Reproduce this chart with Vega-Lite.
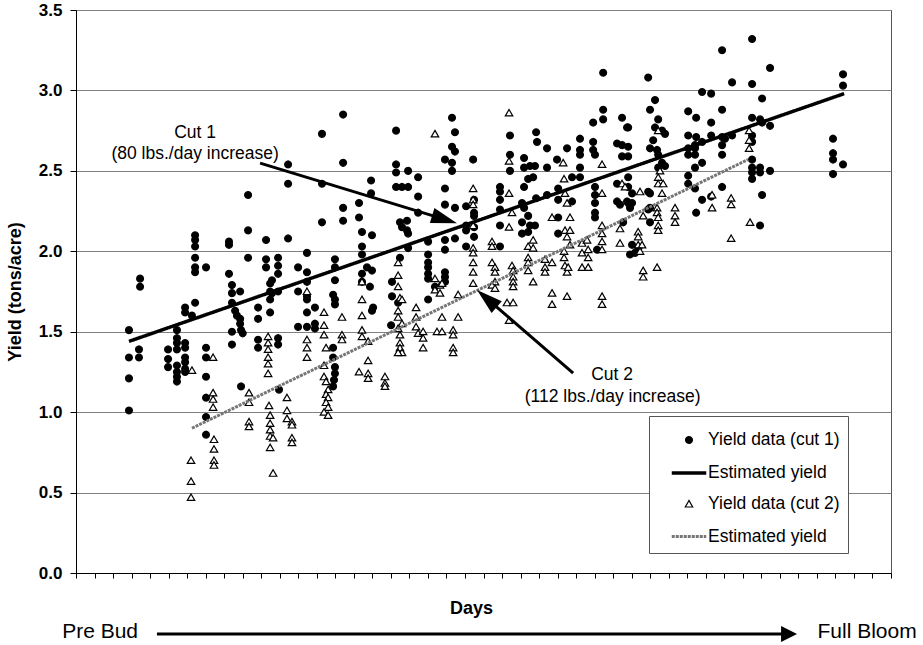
{
"$schema":"https://vega.github.io/schema/vega-lite/v6.json",
"width":815,"height":563,
"autosize":{"type":"none"},
"padding":{"left":76,"top":10,"right":32,"bottom":72},
"background":"white",
"config":{
 "font":"Liberation Sans",
 "view":{"stroke":"#555","strokeWidth":1},
 "legend":{"orient":"none","padding":8,"strokeColor":"#555","fillColor":"white","labelFontSize":17.5,"labelColor":"black","labelFont":"Liberation Sans","rowPadding":6,"gridAlign":"all","symbolSize":900,"symbolOffset":15,"labelOffset":2,"symbolOpacity":1}
},
"datasets":{
"yields":[
{"day":2.86,"yield":1.51,"s":"c1"},{"day":2.86,"yield":1.34,"s":"c1"},{"day":2.86,"yield":1.21,"s":"c1"},{"day":2.86,"yield":1.01,"s":"c1"},
{"day":3.46,"yield":1.83,"s":"c1"},{"day":3.46,"yield":1.78,"s":"c1"},{"day":3.40,"yield":1.39,"s":"c1"},{"day":3.40,"yield":1.34,"s":"c1"},
{"day":4.97,"yield":1.39,"s":"c1"},{"day":4.97,"yield":1.33,"s":"c1"},{"day":4.97,"yield":1.28,"s":"c1"},
{"day":5.45,"yield":1.51,"s":"c1"},{"day":5.45,"yield":1.46,"s":"c1"},{"day":5.45,"yield":1.43,"s":"c1"},{"day":5.45,"yield":1.39,"s":"c1"},{"day":5.45,"yield":1.29,"s":"c1"},{"day":5.45,"yield":1.25,"s":"c1"},{"day":5.45,"yield":1.22,"s":"c1"},{"day":5.45,"yield":1.19,"s":"c1"},
{"day":5.89,"yield":1.43,"s":"c1"},{"day":5.89,"yield":1.40,"s":"c1"},{"day":5.89,"yield":1.34,"s":"c1"},{"day":5.89,"yield":1.31,"s":"c1"},{"day":5.89,"yield":1.27,"s":"c1"},{"day":5.89,"yield":1.25,"s":"c1"},
{"day":5.89,"yield":1.65,"s":"c1"},{"day":5.89,"yield":1.62,"s":"c1"},{"day":6.26,"yield":1.60,"s":"c1"},{"day":6.43,"yield":1.68,"s":"c1"},
{"day":6.43,"yield":2.10,"s":"c1"},{"day":6.43,"yield":2.07,"s":"c1"},{"day":6.43,"yield":2.03,"s":"c1"},{"day":6.43,"yield":1.96,"s":"c1"},{"day":6.43,"yield":1.90,"s":"c1"},{"day":6.43,"yield":1.87,"s":"c1"},{"day":7.02,"yield":1.90,"s":"c1"},
{"day":7.02,"yield":1.40,"s":"c1"},{"day":7.02,"yield":1.34,"s":"c1"},{"day":7.02,"yield":1.22,"s":"c1"},{"day":7.02,"yield":1.09,"s":"c1"},{"day":7.02,"yield":0.97,"s":"c1"},{"day":7.02,"yield":0.86,"s":"c1"},
{"day":8.26,"yield":2.06,"s":"c1"},{"day":8.26,"yield":2.04,"s":"c1"},{"day":8.26,"yield":1.86,"s":"c1"},
{"day":8.42,"yield":1.79,"s":"c1"},{"day":8.42,"yield":1.74,"s":"c1"},{"day":8.86,"yield":1.75,"s":"c1"},{"day":8.42,"yield":1.68,"s":"c1"},{"day":8.59,"yield":1.63,"s":"c1"},{"day":8.69,"yield":1.60,"s":"c1"},{"day":8.86,"yield":1.58,"s":"c1"},{"day":8.86,"yield":1.55,"s":"c1"},{"day":8.91,"yield":1.51,"s":"c1"},{"day":9.00,"yield":1.49,"s":"c1"},{"day":8.42,"yield":1.50,"s":"c1"},{"day":8.42,"yield":1.42,"s":"c1"},
{"day":9.29,"yield":2.35,"s":"c1"},{"day":9.29,"yield":2.13,"s":"c1"},{"day":9.29,"yield":1.96,"s":"c1"},{"day":8.91,"yield":1.16,"s":"c1"},
{"day":9.83,"yield":1.65,"s":"c1"},{"day":9.83,"yield":1.58,"s":"c1"},{"day":9.83,"yield":1.45,"s":"c1"},{"day":9.83,"yield":1.40,"s":"c1"},
{"day":10.26,"yield":2.07,"s":"c1"},{"day":10.26,"yield":1.95,"s":"c1"},{"day":10.26,"yield":1.90,"s":"c1"},{"day":10.91,"yield":1.96,"s":"c1"},{"day":10.91,"yield":1.91,"s":"c1"},{"day":10.91,"yield":1.86,"s":"c1"},{"day":10.58,"yield":1.82,"s":"c1"},{"day":10.48,"yield":1.80,"s":"c1"},{"day":10.48,"yield":1.75,"s":"c1"},{"day":10.58,"yield":1.74,"s":"c1"},{"day":10.91,"yield":1.75,"s":"c1"},{"day":10.48,"yield":1.70,"s":"c1"},{"day":10.48,"yield":1.62,"s":"c1"},
{"day":10.91,"yield":1.46,"s":"c1"},{"day":10.91,"yield":1.42,"s":"c1"},
{"day":11.45,"yield":2.54,"s":"c1"},{"day":11.45,"yield":2.42,"s":"c1"},{"day":11.45,"yield":2.08,"s":"c1"},{"day":10.96,"yield":1.14,"s":"c1"},
{"day":12.47,"yield":1.99,"s":"c1"},{"day":11.99,"yield":1.90,"s":"c1"},{"day":12.47,"yield":1.87,"s":"c1"},{"day":12.47,"yield":1.81,"s":"c1"},{"day":11.99,"yield":1.75,"s":"c1"},{"day":12.47,"yield":1.72,"s":"c1"},{"day":12.47,"yield":1.70,"s":"c1"},{"day":12.47,"yield":1.62,"s":"c1"},{"day":12.90,"yield":1.65,"s":"c1"},{"day":12.47,"yield":1.53,"s":"c1"},{"day":12.90,"yield":1.55,"s":"c1"},{"day":12.90,"yield":1.52,"s":"c1"},{"day":11.99,"yield":1.53,"s":"c1"},
{"day":13.28,"yield":2.73,"s":"c1"},{"day":13.28,"yield":2.42,"s":"c1"},{"day":13.28,"yield":2.18,"s":"c1"},
{"day":13.98,"yield":1.95,"s":"c1"},{"day":13.98,"yield":1.90,"s":"c1"},{"day":13.98,"yield":1.82,"s":"c1"},{"day":13.88,"yield":1.73,"s":"c1"},{"day":13.98,"yield":1.70,"s":"c1"},{"day":13.98,"yield":1.67,"s":"c1"},
{"day":13.88,"yield":1.40,"s":"c1"},{"day":13.88,"yield":1.34,"s":"c1"},{"day":13.98,"yield":1.28,"s":"c1"},{"day":13.98,"yield":1.24,"s":"c1"},{"day":13.93,"yield":1.20,"s":"c1"},{"day":13.88,"yield":1.16,"s":"c1"},
{"day":14.42,"yield":2.85,"s":"c1"},{"day":14.42,"yield":2.55,"s":"c1"},{"day":14.42,"yield":2.27,"s":"c1"},{"day":14.42,"yield":2.19,"s":"c1"},
{"day":15.28,"yield":2.30,"s":"c1"},{"day":15.28,"yield":2.21,"s":"c1"},{"day":15.44,"yield":2.12,"s":"c1"},{"day":15.98,"yield":2.10,"s":"c1"},{"day":15.44,"yield":2.03,"s":"c1"},{"day":15.44,"yield":1.98,"s":"c1"},{"day":15.71,"yield":1.90,"s":"c1"},{"day":15.98,"yield":1.88,"s":"c1"},{"day":15.44,"yield":1.86,"s":"c1"},{"day":15.44,"yield":1.81,"s":"c1"},{"day":15.87,"yield":1.78,"s":"c1"},{"day":16.04,"yield":1.65,"s":"c1"},{"day":15.98,"yield":1.63,"s":"c1"},
{"day":15.93,"yield":2.44,"s":"c1"},{"day":15.93,"yield":2.36,"s":"c1"},
{"day":17.28,"yield":2.75,"s":"c1"},
{"day":17.28,"yield":2.54,"s":"c1"},{"day":17.28,"yield":2.49,"s":"c1"},{"day":17.93,"yield":2.50,"s":"c1"},{"day":17.28,"yield":2.40,"s":"c1"},{"day":17.60,"yield":2.40,"s":"c1"},{"day":17.93,"yield":2.40,"s":"c1"},{"day":18.47,"yield":2.46,"s":"c1"},{"day":18.47,"yield":2.34,"s":"c1"},
{"day":17.49,"yield":2.18,"s":"c1"},{"day":17.60,"yield":2.15,"s":"c1"},{"day":17.87,"yield":2.19,"s":"c1"},{"day":17.87,"yield":2.13,"s":"c1"},{"day":17.93,"yield":2.11,"s":"c1"},{"day":17.49,"yield":1.96,"s":"c1"},{"day":17.93,"yield":2.02,"s":"c1"},{"day":18.47,"yield":2.24,"s":"c1"},
{"day":17.06,"yield":1.81,"s":"c1"},{"day":17.06,"yield":1.72,"s":"c1"},{"day":17.39,"yield":1.68,"s":"c1"},{"day":17.01,"yield":1.54,"s":"c1"},
{"day":19.01,"yield":2.06,"s":"c1"},{"day":19.01,"yield":1.98,"s":"c1"},{"day":19.01,"yield":1.93,"s":"c1"},{"day":19.01,"yield":1.90,"s":"c1"},{"day":19.01,"yield":1.86,"s":"c1"},{"day":19.01,"yield":1.83,"s":"c1"},{"day":19.01,"yield":1.70,"s":"c1"},
{"day":19.92,"yield":1.87,"s":"c1"},{"day":19.92,"yield":1.84,"s":"c1"},{"day":19.92,"yield":1.81,"s":"c1"},{"day":19.38,"yield":1.78,"s":"c1"},
{"day":20.30,"yield":2.83,"s":"c1"},{"day":20.46,"yield":2.74,"s":"c1"},{"day":20.30,"yield":2.65,"s":"c1"},{"day":20.46,"yield":2.62,"s":"c1"},{"day":19.92,"yield":2.57,"s":"c1"},{"day":20.30,"yield":2.55,"s":"c1"},{"day":20.30,"yield":2.50,"s":"c1"},{"day":21.44,"yield":2.57,"s":"c1"},
{"day":19.92,"yield":2.39,"s":"c1"},{"day":19.92,"yield":2.29,"s":"c1"},{"day":20.46,"yield":2.27,"s":"c1"},{"day":19.92,"yield":2.07,"s":"c1"},{"day":19.92,"yield":2.01,"s":"c1"},{"day":20.46,"yield":2.08,"s":"c1"},
{"day":21.06,"yield":2.28,"s":"c1"},{"day":21.06,"yield":2.16,"s":"c1"},{"day":21.06,"yield":2.13,"s":"c1"},{"day":21.06,"yield":2.03,"s":"c1"},{"day":21.49,"yield":2.32,"s":"c1"},{"day":21.49,"yield":2.24,"s":"c1"},{"day":21.49,"yield":2.22,"s":"c1"},{"day":21.49,"yield":2.15,"s":"c1"},{"day":21.49,"yield":2.09,"s":"c1"},
{"day":22.89,"yield":2.40,"s":"c1"},{"day":22.89,"yield":2.37,"s":"c1"},{"day":22.89,"yield":2.32,"s":"c1"},{"day":22.89,"yield":2.26,"s":"c1"},{"day":22.89,"yield":2.16,"s":"c1"},{"day":22.89,"yield":2.03,"s":"c1"},
{"day":28.46,"yield":3.11,"s":"c1"},
{"day":23.43,"yield":2.72,"s":"c1"},{"day":23.43,"yield":2.60,"s":"c1"},{"day":23.43,"yield":2.50,"s":"c1"},
{"day":24.19,"yield":2.58,"s":"c1"},{"day":24.19,"yield":2.52,"s":"c1"},{"day":24.51,"yield":2.53,"s":"c1"},{"day":24.78,"yield":2.53,"s":"c1"},{"day":24.68,"yield":2.46,"s":"c1"},{"day":24.41,"yield":2.45,"s":"c1"},{"day":24.19,"yield":2.40,"s":"c1"},{"day":24.84,"yield":2.33,"s":"c1"},{"day":24.08,"yield":2.30,"s":"c1"},{"day":24.19,"yield":2.27,"s":"c1"},{"day":24.08,"yield":2.18,"s":"c1"},{"day":24.41,"yield":2.22,"s":"c1"},{"day":24.51,"yield":2.16,"s":"c1"},{"day":24.78,"yield":2.16,"s":"c1"},{"day":24.08,"yield":2.11,"s":"c1"},{"day":24.41,"yield":2.12,"s":"c1"},
{"day":24.84,"yield":2.74,"s":"c1"},{"day":24.89,"yield":2.68,"s":"c1"},{"day":25.43,"yield":2.64,"s":"c1"},{"day":25.43,"yield":2.52,"s":"c1"},{"day":25.43,"yield":2.35,"s":"c1"},
{"day":25.97,"yield":2.57,"s":"c1"},{"day":26.03,"yield":2.39,"s":"c1"},{"day":26.03,"yield":2.32,"s":"c1"},{"day":26.03,"yield":2.21,"s":"c1"},{"day":26.03,"yield":2.11,"s":"c1"},{"day":26.51,"yield":2.64,"s":"c1"},{"day":26.78,"yield":2.46,"s":"c1"},{"day":26.78,"yield":2.31,"s":"c1"},
{"day":27.21,"yield":2.70,"s":"c1"},{"day":27.21,"yield":2.63,"s":"c1"},{"day":27.21,"yield":2.60,"s":"c1"},{"day":27.21,"yield":2.52,"s":"c1"},{"day":27.21,"yield":2.46,"s":"c1"},
{"day":27.92,"yield":2.80,"s":"c1"},{"day":27.92,"yield":2.68,"s":"c1"},{"day":27.92,"yield":2.63,"s":"c1"},{"day":28.02,"yield":2.60,"s":"c1"},{"day":28.02,"yield":2.40,"s":"c1"},{"day":28.02,"yield":2.35,"s":"c1"},{"day":28.02,"yield":2.30,"s":"c1"},{"day":28.02,"yield":2.24,"s":"c1"},{"day":28.02,"yield":2.21,"s":"c1"},{"day":28.13,"yield":2.01,"s":"c1"},
{"day":28.46,"yield":2.88,"s":"c1"},{"day":28.46,"yield":2.82,"s":"c1"},
{"day":29.21,"yield":2.67,"s":"c1"},{"day":29.48,"yield":2.66,"s":"c1"},{"day":29.48,"yield":2.59,"s":"c1"},{"day":29.21,"yield":2.42,"s":"c1"},{"day":29.21,"yield":2.31,"s":"c1"},{"day":29.37,"yield":2.29,"s":"c1"},{"day":29.75,"yield":2.31,"s":"c1"},{"day":29.54,"yield":2.18,"s":"c1"},{"day":29.91,"yield":1.98,"s":"c1"},
{"day":29.48,"yield":2.83,"s":"c1"},{"day":29.75,"yield":2.77,"s":"c1"},
{"day":30.89,"yield":3.08,"s":"c1"},{"day":34.88,"yield":3.25,"s":"c1"},{"day":36.50,"yield":3.32,"s":"c1"},{"day":36.50,"yield":3.04,"s":"c1"},{"day":35.42,"yield":3.05,"s":"c1"},{"day":33.80,"yield":2.99,"s":"c1"},{"day":34.29,"yield":2.98,"s":"c1"},
{"day":31.26,"yield":2.94,"s":"c1"},{"day":30.99,"yield":2.88,"s":"c1"},{"day":31.43,"yield":2.82,"s":"c1"},{"day":31.26,"yield":2.77,"s":"c1"},{"day":31.64,"yield":2.75,"s":"c1"},{"day":31.80,"yield":2.73,"s":"c1"},{"day":31.16,"yield":2.69,"s":"c1"},{"day":30.99,"yield":2.64,"s":"c1"},{"day":31.37,"yield":2.63,"s":"c1"},{"day":31.43,"yield":2.60,"s":"c1"},{"day":31.64,"yield":2.55,"s":"c1"},{"day":31.80,"yield":2.53,"s":"c1"},{"day":31.43,"yield":2.52,"s":"c1"},
{"day":29.81,"yield":2.77,"s":"c1"},{"day":29.81,"yield":2.65,"s":"c1"},{"day":29.81,"yield":2.59,"s":"c1"},
{"day":29.81,"yield":2.46,"s":"c1"},{"day":29.81,"yield":2.40,"s":"c1"},{"day":30.02,"yield":2.36,"s":"c1"},{"day":29.81,"yield":2.30,"s":"c1"},{"day":29.91,"yield":2.27,"s":"c1"},{"day":30.02,"yield":2.30,"s":"c1"},
{"day":30.99,"yield":2.36,"s":"c1"},{"day":30.99,"yield":2.27,"s":"c1"},{"day":30.89,"yield":2.26,"s":"c1"},{"day":30.99,"yield":2.18,"s":"c1"},{"day":30.89,"yield":2.37,"s":"c1"},
{"day":30.02,"yield":2.04,"s":"c1"},{"day":30.35,"yield":2.01,"s":"c1"},{"day":30.18,"yield":1.99,"s":"c1"},
{"day":33.05,"yield":2.87,"s":"c1"},{"day":33.48,"yield":2.83,"s":"c1"},{"day":33.05,"yield":2.72,"s":"c1"},{"day":33.48,"yield":2.71,"s":"c1"},{"day":33.05,"yield":2.64,"s":"c1"},{"day":33.05,"yield":2.60,"s":"c1"},{"day":33.42,"yield":2.66,"s":"c1"},{"day":33.42,"yield":2.64,"s":"c1"},{"day":33.42,"yield":2.60,"s":"c1"},{"day":33.80,"yield":2.68,"s":"c1"},{"day":34.29,"yield":2.80,"s":"c1"},{"day":34.29,"yield":2.72,"s":"c1"},{"day":33.80,"yield":2.55,"s":"c1"},{"day":33.42,"yield":2.52,"s":"c1"},{"day":33.05,"yield":2.47,"s":"c1"},{"day":33.05,"yield":2.42,"s":"c1"},{"day":33.42,"yield":2.39,"s":"c1"},{"day":33.80,"yield":2.32,"s":"c1"},{"day":33.48,"yield":2.24,"s":"c1"},
{"day":34.88,"yield":2.88,"s":"c1"},{"day":34.88,"yield":2.71,"s":"c1"},{"day":34.88,"yield":2.66,"s":"c1"},{"day":34.88,"yield":2.60,"s":"c1"},{"day":35.04,"yield":2.70,"s":"c1"},{"day":35.42,"yield":2.72,"s":"c1"},{"day":34.88,"yield":2.40,"s":"c1"},{"day":34.29,"yield":2.34,"s":"c1"},
{"day":37.47,"yield":3.14,"s":"c1"},{"day":37.04,"yield":2.95,"s":"c1"},
{"day":36.50,"yield":2.83,"s":"c1"},{"day":36.93,"yield":2.82,"s":"c1"},{"day":37.04,"yield":2.80,"s":"c1"},{"day":37.47,"yield":2.78,"s":"c1"},
{"day":36.50,"yield":2.72,"s":"c1"},{"day":36.50,"yield":2.68,"s":"c1"},{"day":36.50,"yield":2.57,"s":"c1"},{"day":36.50,"yield":2.52,"s":"c1"},{"day":36.50,"yield":2.49,"s":"c1"},{"day":36.50,"yield":2.45,"s":"c1"},{"day":36.93,"yield":2.52,"s":"c1"},{"day":36.93,"yield":2.49,"s":"c1"},{"day":37.47,"yield":2.50,"s":"c1"},{"day":37.04,"yield":2.35,"s":"c1"},{"day":36.93,"yield":2.16,"s":"c1"},
{"day":41.41,"yield":3.10,"s":"c1"},{"day":41.41,"yield":3.03,"s":"c1"},
{"day":40.87,"yield":2.70,"s":"c1"},{"day":40.87,"yield":2.61,"s":"c1"},{"day":40.87,"yield":2.57,"s":"c1"},{"day":40.87,"yield":2.48,"s":"c1"},{"day":41.41,"yield":2.54,"s":"c1"},
{"day":6.26,"yield":1.26,"s":"c2"},{"day":6.21,"yield":0.70,"s":"c2"},{"day":6.21,"yield":0.57,"s":"c2"},{"day":6.21,"yield":0.47,"s":"c2"},
{"day":7.40,"yield":1.34,"s":"c2"},{"day":7.40,"yield":1.12,"s":"c2"},{"day":7.40,"yield":1.08,"s":"c2"},{"day":7.40,"yield":1.03,"s":"c2"},
{"day":7.45,"yield":0.83,"s":"c2"},{"day":7.45,"yield":0.77,"s":"c2"},{"day":7.45,"yield":0.70,"s":"c2"},{"day":7.45,"yield":0.67,"s":"c2"},
{"day":9.34,"yield":1.12,"s":"c2"},{"day":9.34,"yield":1.06,"s":"c2"},{"day":9.34,"yield":0.94,"s":"c2"},{"day":9.34,"yield":0.91,"s":"c2"},
{"day":10.37,"yield":1.47,"s":"c2"},{"day":10.37,"yield":1.43,"s":"c2"},{"day":10.37,"yield":1.39,"s":"c2"},{"day":10.37,"yield":1.34,"s":"c2"},{"day":10.37,"yield":1.30,"s":"c2"},{"day":10.37,"yield":1.24,"s":"c2"},
{"day":10.42,"yield":1.04,"s":"c2"},{"day":10.48,"yield":0.98,"s":"c2"},{"day":10.48,"yield":0.93,"s":"c2"},{"day":10.48,"yield":0.89,"s":"c2"},{"day":10.48,"yield":0.85,"s":"c2"},{"day":10.64,"yield":0.84,"s":"c2"},{"day":10.48,"yield":0.78,"s":"c2"},{"day":10.64,"yield":0.62,"s":"c2"},
{"day":11.39,"yield":1.09,"s":"c2"},{"day":11.39,"yield":1.01,"s":"c2"},{"day":11.39,"yield":0.96,"s":"c2"},{"day":11.66,"yield":0.94,"s":"c2"},{"day":11.66,"yield":0.92,"s":"c2"},{"day":11.66,"yield":0.84,"s":"c2"},{"day":11.66,"yield":0.81,"s":"c2"},
{"day":12.47,"yield":1.75,"s":"c2"},{"day":12.47,"yield":1.45,"s":"c2"},{"day":12.47,"yield":1.40,"s":"c2"},{"day":12.47,"yield":1.34,"s":"c2"},
{"day":13.39,"yield":1.62,"s":"c2"},{"day":13.39,"yield":1.54,"s":"c2"},{"day":13.39,"yield":1.48,"s":"c2"},{"day":13.50,"yield":1.40,"s":"c2"},{"day":13.39,"yield":1.29,"s":"c2"},{"day":13.39,"yield":1.22,"s":"c2"},{"day":13.50,"yield":1.19,"s":"c2"},{"day":13.61,"yield":1.14,"s":"c2"},{"day":13.50,"yield":1.11,"s":"c2"},{"day":13.61,"yield":1.09,"s":"c2"},{"day":13.50,"yield":1.06,"s":"c2"},{"day":13.61,"yield":1.03,"s":"c2"},{"day":13.39,"yield":1.00,"s":"c2"},{"day":13.61,"yield":0.98,"s":"c2"},
{"day":14.36,"yield":1.59,"s":"c2"},{"day":14.36,"yield":1.48,"s":"c2"},{"day":14.36,"yield":1.45,"s":"c2"},
{"day":15.44,"yield":1.81,"s":"c2"},{"day":15.44,"yield":1.70,"s":"c2"},{"day":15.44,"yield":1.60,"s":"c2"},{"day":15.44,"yield":1.51,"s":"c2"},{"day":15.44,"yield":1.47,"s":"c2"},{"day":15.77,"yield":1.44,"s":"c2"},{"day":15.77,"yield":1.32,"s":"c2"},{"day":15.28,"yield":1.25,"s":"c2"},{"day":15.77,"yield":1.24,"s":"c2"},{"day":15.77,"yield":1.21,"s":"c2"},
{"day":19.38,"yield":2.73,"s":"c2"},
{"day":17.39,"yield":1.93,"s":"c2"},{"day":17.39,"yield":1.85,"s":"c2"},{"day":17.39,"yield":1.78,"s":"c2"},{"day":17.49,"yield":1.71,"s":"c2"},{"day":17.60,"yield":1.70,"s":"c2"},{"day":17.39,"yield":1.63,"s":"c2"},{"day":17.39,"yield":1.59,"s":"c2"},{"day":17.60,"yield":1.55,"s":"c2"},{"day":17.39,"yield":1.52,"s":"c2"},{"day":17.49,"yield":1.48,"s":"c2"},{"day":17.49,"yield":1.43,"s":"c2"},{"day":17.49,"yield":1.40,"s":"c2"},{"day":17.60,"yield":1.37,"s":"c2"},{"day":17.39,"yield":1.37,"s":"c2"},
{"day":16.68,"yield":1.22,"s":"c2"},{"day":16.68,"yield":1.18,"s":"c2"},{"day":16.68,"yield":1.16,"s":"c2"},
{"day":18.36,"yield":1.65,"s":"c2"},{"day":18.36,"yield":1.59,"s":"c2"},{"day":18.36,"yield":1.53,"s":"c2"},{"day":18.47,"yield":1.49,"s":"c2"},{"day":18.74,"yield":1.50,"s":"c2"},{"day":18.74,"yield":1.46,"s":"c2"},{"day":18.74,"yield":1.40,"s":"c2"},
{"day":19.38,"yield":1.83,"s":"c2"},{"day":19.38,"yield":1.76,"s":"c2"},{"day":19.65,"yield":1.79,"s":"c2"},{"day":19.65,"yield":1.74,"s":"c2"},{"day":19.76,"yield":1.80,"s":"c2"},{"day":19.76,"yield":1.59,"s":"c2"},
{"day":19.49,"yield":1.50,"s":"c2"},{"day":19.76,"yield":1.50,"s":"c2"},
{"day":20.36,"yield":1.51,"s":"c2"},{"day":20.36,"yield":1.48,"s":"c2"},{"day":20.36,"yield":1.40,"s":"c2"},{"day":20.36,"yield":1.37,"s":"c2"},
{"day":20.63,"yield":1.73,"s":"c2"},{"day":20.63,"yield":1.59,"s":"c2"},
{"day":21.44,"yield":2.39,"s":"c2"},{"day":21.44,"yield":2.32,"s":"c2"},{"day":21.44,"yield":2.29,"s":"c2"},{"day":21.44,"yield":2.16,"s":"c2"},{"day":21.44,"yield":2.02,"s":"c2"},{"day":21.44,"yield":1.99,"s":"c2"},{"day":21.44,"yield":1.93,"s":"c2"},{"day":21.44,"yield":1.87,"s":"c2"},{"day":21.44,"yield":1.80,"s":"c2"},
{"day":22.46,"yield":2.06,"s":"c2"},{"day":22.46,"yield":2.03,"s":"c2"},{"day":22.46,"yield":1.93,"s":"c2"},{"day":22.62,"yield":1.90,"s":"c2"},{"day":22.62,"yield":1.87,"s":"c2"},{"day":22.62,"yield":1.81,"s":"c2"},{"day":22.46,"yield":1.79,"s":"c2"},{"day":22.62,"yield":1.77,"s":"c2"},
{"day":23.38,"yield":2.86,"s":"c2"},{"day":23.38,"yield":2.56,"s":"c2"},{"day":23.38,"yield":2.36,"s":"c2"},{"day":23.54,"yield":2.24,"s":"c2"},{"day":23.38,"yield":2.15,"s":"c2"},
{"day":23.54,"yield":1.91,"s":"c2"},{"day":23.60,"yield":1.88,"s":"c2"},{"day":23.60,"yield":1.84,"s":"c2"},{"day":23.60,"yield":1.81,"s":"c2"},{"day":23.60,"yield":1.78,"s":"c2"},
{"day":23.27,"yield":1.68,"s":"c2"},{"day":23.60,"yield":1.68,"s":"c2"},{"day":23.38,"yield":1.57,"s":"c2"},
{"day":24.41,"yield":2.03,"s":"c2"},{"day":24.68,"yield":2.07,"s":"c2"},{"day":24.68,"yield":2.02,"s":"c2"},{"day":24.41,"yield":1.96,"s":"c2"},{"day":24.41,"yield":1.93,"s":"c2"},{"day":24.41,"yield":1.88,"s":"c2"},{"day":24.68,"yield":1.81,"s":"c2"},
{"day":25.32,"yield":1.95,"s":"c2"},{"day":25.32,"yield":1.90,"s":"c2"},{"day":25.32,"yield":1.87,"s":"c2"},{"day":25.70,"yield":1.93,"s":"c2"},{"day":25.70,"yield":2.21,"s":"c2"},
{"day":25.70,"yield":1.74,"s":"c2"},{"day":25.70,"yield":1.67,"s":"c2"},{"day":26.51,"yield":1.72,"s":"c2"},
{"day":26.30,"yield":2.55,"s":"c2"},{"day":26.35,"yield":2.45,"s":"c2"},{"day":26.40,"yield":2.36,"s":"c2"},{"day":26.51,"yield":2.30,"s":"c2"},{"day":26.67,"yield":2.21,"s":"c2"},{"day":26.40,"yield":2.13,"s":"c2"},{"day":26.67,"yield":2.13,"s":"c2"},{"day":26.51,"yield":2.09,"s":"c2"},{"day":26.67,"yield":2.04,"s":"c2"},{"day":26.35,"yield":2.00,"s":"c2"},{"day":26.35,"yield":1.96,"s":"c2"},{"day":26.40,"yield":1.91,"s":"c2"},{"day":26.51,"yield":1.87,"s":"c2"},{"day":26.57,"yield":1.90,"s":"c2"},
{"day":27.32,"yield":2.05,"s":"c2"},{"day":27.32,"yield":1.99,"s":"c2"},{"day":27.32,"yield":1.90,"s":"c2"},{"day":27.65,"yield":2.01,"s":"c2"},{"day":27.65,"yield":1.96,"s":"c2"},{"day":27.65,"yield":1.90,"s":"c2"},{"day":27.59,"yield":2.07,"s":"c2"},
{"day":28.40,"yield":2.54,"s":"c2"},{"day":28.40,"yield":2.36,"s":"c2"},{"day":28.40,"yield":2.16,"s":"c2"},{"day":28.40,"yield":2.11,"s":"c2"},{"day":28.40,"yield":2.06,"s":"c2"},{"day":28.40,"yield":2.01,"s":"c2"},{"day":28.40,"yield":1.72,"s":"c2"},{"day":28.40,"yield":1.67,"s":"c2"},
{"day":29.48,"yield":2.42,"s":"c2"},{"day":29.64,"yield":2.40,"s":"c2"},{"day":29.37,"yield":2.14,"s":"c2"},{"day":29.37,"yield":2.05,"s":"c2"},
{"day":31.43,"yield":2.75,"s":"c2"},{"day":31.53,"yield":2.50,"s":"c2"},{"day":31.43,"yield":2.46,"s":"c2"},{"day":31.43,"yield":2.42,"s":"c2"},{"day":31.70,"yield":2.42,"s":"c2"},{"day":31.64,"yield":2.36,"s":"c2"},
{"day":30.45,"yield":2.37,"s":"c2"},
{"day":30.62,"yield":2.22,"s":"c2"},{"day":31.37,"yield":2.27,"s":"c2"},{"day":31.37,"yield":2.24,"s":"c2"},{"day":31.43,"yield":2.21,"s":"c2"},{"day":31.43,"yield":2.16,"s":"c2"},{"day":31.43,"yield":2.13,"s":"c2"},
{"day":32.34,"yield":2.27,"s":"c2"},{"day":32.34,"yield":2.22,"s":"c2"},{"day":32.34,"yield":2.18,"s":"c2"},
{"day":30.35,"yield":2.12,"s":"c2"},{"day":30.35,"yield":2.09,"s":"c2"},{"day":30.35,"yield":2.04,"s":"c2"},{"day":30.56,"yield":2.04,"s":"c2"},{"day":30.45,"yield":2.00,"s":"c2"},
{"day":30.62,"yield":1.88,"s":"c2"},{"day":30.62,"yield":1.84,"s":"c2"},{"day":31.37,"yield":1.90,"s":"c2"},
{"day":34.34,"yield":2.35,"s":"c2"},{"day":34.34,"yield":2.27,"s":"c2"},{"day":35.37,"yield":2.33,"s":"c2"},{"day":35.37,"yield":2.29,"s":"c2"},{"day":35.37,"yield":2.08,"s":"c2"},
{"day":36.34,"yield":2.75,"s":"c2"},{"day":36.34,"yield":2.69,"s":"c2"},{"day":36.34,"yield":2.64,"s":"c2"},{"day":36.39,"yield":2.18,"s":"c2"}
],
"trend":[
{"day":2.86,"yield":1.44,"s":"l1"},{"day":41.47,"yield":2.98,"s":"l1"},
{"day":6.26,"yield":0.90,"s":"l2"},{"day":36.28,"yield":2.57,"s":"l2"}
],
"arrows":[
{"day":9.94,"yield":2.548,"day2":19.95,"yield2":2.197},
{"day":26.84,"yield":1.243,"day2":22.14,"yield2":1.71},
{"day":4.37,"yield":-0.379,"day2":38.3,"yield2":-0.379}
],
"notes":[
{"day":6.43,"yield":2.707,"text":"Cut 1"},
{"day":6.43,"yield":2.571,"text":"(80 lbs./day increase)"},
{"day":28.94,"yield":1.2,"text":"Cut 2"},
{"day":28.97,"yield":1.063,"text":"(112 lbs./day increase)"}
],
"stages":[
{"day":1.3,"yield":-0.404,"text":"Pre Bud"},
{"day":42.71,"yield":-0.404,"text":"Full Bloom"}
]
},
"encoding":{
 "x":{"field":"day","type":"quantitative","scale":{"domain":[0,44],"nice":false,"zero":false},
  "axis":{"title":"Days","labels":false,"tickCount":44,"tickSize":5,"grid":false,"domainColor":"black","tickColor":"black","titleFontSize":18,"titleFontWeight":"bold","titleColor":"black","titleX":395,"titleY":40,"titleBaseline":"alphabetic","titleAlign":"center"}},
 "y":{"field":"yield","type":"quantitative","scale":{"domain":[0,3.5],"nice":false,"zero":true},
  "axis":{"title":"Yield (tons/acre)","tickCount":7,"format":".1f","labelFontSize":17,"labelFontWeight":"bold","labelColor":"black","tickSize":6,"labelPadding":8,"grid":true,"gridColor":"#808080","gridWidth":1,"domainColor":"black","tickColor":"black","titleFontSize":18,"titleFontWeight":"bold","titleColor":"black","titleX":-61,"titleY":281.5,"titleAngle":270,"titleAlign":"center","titleBaseline":"middle"}}
},
"layer":[
{
 "data":{"name":"yields"},
 "mark":{"type":"point","opacity":1,"strokeWidth":1.2,"size":900},
 "encoding":{
  "shape":{"field":"s","type":"nominal","scale":{"domain":["c1","l1","c2","l2"],"range":["M0.23,0L0.199,0.115L0.115,0.199L0,0.23L-0.115,0.199L-0.199,0.115L-0.23,0L-0.199,-0.115L-0.115,-0.199L0,-0.23L0.115,-0.199L0.199,-0.115Z","M-1.15,0L1.15,0","M0,-0.23L0.25,0.2L-0.25,0.2Z","M-1.15,0L1.15,0"]},"legend":{"title":null,"orient":"none","legendX":573,"legendY":406,"labelExpr":"datum.label == 'c1' ? 'Yield data (cut 1)' : datum.label == 'c2' ? 'Yield data (cut 2)' : 'Estimated yield'"}},
  "fill":{"field":"s","type":"nominal","scale":{"domain":["c1","l1","c2","l2"],"range":["black","transparent","white","transparent"]},"legend":{"title":null,"orient":"none","legendX":573,"legendY":406,"labelExpr":"datum.label == 'c1' ? 'Yield data (cut 1)' : datum.label == 'c2' ? 'Yield data (cut 2)' : 'Estimated yield'"}},
  "stroke":{"field":"s","type":"nominal","scale":{"domain":["c1","l1","c2","l2"],"range":["black","black","black","#767676"]},"legend":{"title":null,"orient":"none","legendX":573,"legendY":406,"labelExpr":"datum.label == 'c1' ? 'Yield data (cut 1)' : datum.label == 'c2' ? 'Yield data (cut 2)' : 'Estimated yield'"}}
 }
},
{
 "data":{"name":"trend"},
 "mark":{"type":"line"},
 "encoding":{
  "stroke":{"field":"s","type":"nominal","scale":{"domain":["c1","l1","c2","l2"],"range":["black","black","black","#767676"]},"legend":{"title":null,"orient":"none","legendX":573,"legendY":406,"labelExpr":"datum.label == 'c1' ? 'Yield data (cut 1)' : datum.label == 'c2' ? 'Yield data (cut 2)' : 'Estimated yield'"}},
  "strokeWidth":{"field":"s","type":"nominal","scale":{"type":"ordinal","domain":["c1","l1","c2","l2"],"range":[1.2,3.5,1.2,3]},"legend":{"title":null,"orient":"none","legendX":573,"legendY":406,"labelExpr":"datum.label == 'c1' ? 'Yield data (cut 1)' : datum.label == 'c2' ? 'Yield data (cut 2)' : 'Estimated yield'"}},
  "strokeDash":{"field":"s","type":"nominal","scale":{"domain":["c1","l1","c2","l2"],"range":[[1,0],[1,0],[1,0],[3,1]]},"legend":{"title":null,"orient":"none","legendX":573,"legendY":406,"labelExpr":"datum.label == 'c1' ? 'Yield data (cut 1)' : datum.label == 'c2' ? 'Yield data (cut 2)' : 'Estimated yield'"}}
 }
},
{
 "data":{"name":"arrows"},
 "mark":{"type":"rule","strokeWidth":3,"color":"black"},
 "encoding":{"x2":{"field":"day2"},"y2":{"field":"yield2"}}
},
{
 "data":{"values":[{"day":20.57,"yield":2.175}]},
 "mark":{"type":"point","shape":"M0,0L-1,-0.3L-1,0.3Z","size":2704,"filled":true,"color":"black","opacity":1,"angle":16.9}
},
{
 "data":{"values":[{"day":21.65,"yield":1.759}]},
 "mark":{"type":"point","shape":"M0,0L-1,-0.3L-1,0.3Z","size":2704,"filled":true,"color":"black","opacity":1,"angle":220.8}
},
{
 "data":{"values":[{"day":38.93,"yield":-0.379}]},
 "mark":{"type":"point","shape":"M0,0L-1,-0.5L-1,0.5Z","size":1024,"filled":true,"color":"black","opacity":1,"angle":0}
},
{
 "data":{"name":"notes"},
 "mark":{"type":"text","fontSize":17.5,"align":"center","baseline":"alphabetic","color":"black"},
 "encoding":{"text":{"field":"text"}}
},
{
 "data":{"name":"stages"},
 "mark":{"type":"text","fontSize":21,"align":"center","baseline":"alphabetic","color":"black"},
 "encoding":{"text":{"field":"text"}}
}
]
}
